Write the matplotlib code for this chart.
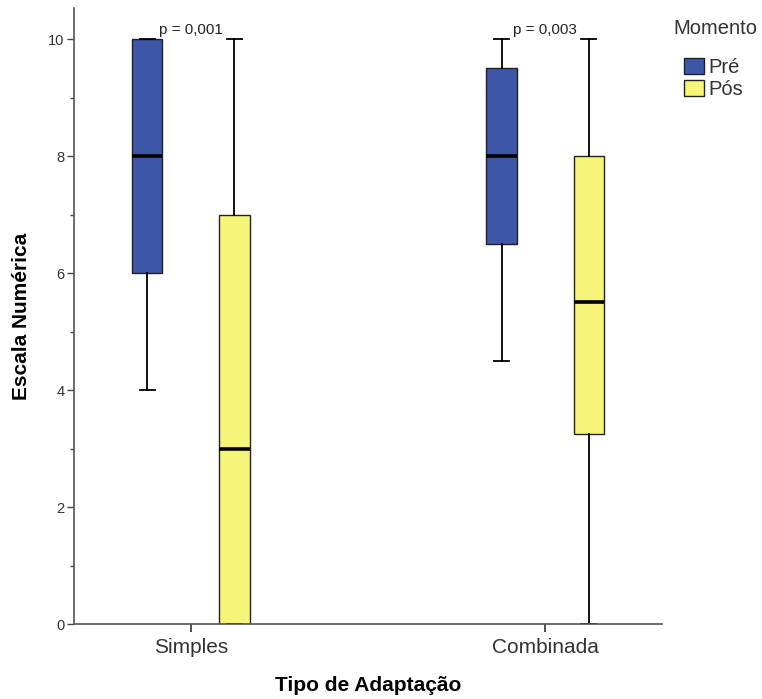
import matplotlib
matplotlib.use("Agg")
import matplotlib.pyplot as plt
from matplotlib.patches import Patch

plt.rcParams['font.family'] = ['Liberation Sans', 'DejaVu Sans']

categories = ["Simples", "Combinada"]
groups = ["Pré", "Pós"]
colors = ["#3d56a8", "#f7f577"]

# five-number summaries: (whislo, q1, median, q3, whishi)
pre_stats = [(4.0, 6.0, 8.0, 10.0, 10.0), (4.5, 6.5, 8.0, 9.5, 10.0)]
pos_stats = [(0.0, 0.0, 3.0, 7.0, 10.0), (0.0, 3.25, 5.5, 8.0, 10.0)]
p_labels = ["p = 0,001", "p = 0,003"]
y_ticks = [0, 2, 4, 6, 8, 10]

fig = plt.figure(figsize=(7.62, 6.99), dpi=100)
ax = fig.add_axes([74 / 762, 1 - 624 / 699, 588 / 762, 616 / 699])

offset = 0.123
width = 0.085
for gi, (stats_list, col) in enumerate(zip([pre_stats, pos_stats], colors)):
    stats = []
    for s in stats_list:
        stats.append(dict(whislo=s[0], q1=s[1], med=s[2], q3=s[3], whishi=s[4], fliers=[]))
    pos = [i + (offset if gi else -offset) for i in range(len(categories))]
    ax.bxp(stats, positions=pos, widths=width, patch_artist=True, showfliers=False,
           boxprops=dict(facecolor=col, edgecolor="#222222", linewidth=1.0),
           medianprops=dict(color="black", linewidth=2.6),
           whiskerprops=dict(color="black", linewidth=1.3),
           capprops=dict(color="black", linewidth=1.3),
           capwidths=width / 2, manage_ticks=False)

for i, lab in enumerate(p_labels):
    ax.text(i, 10.03, lab, ha="center", va="bottom", fontsize=11, color="#222222")

ax.set_xlim(-0.33, 1.33)
ax.set_ylim(0, 10.53)
ax.set_xticks(range(len(categories)))
ax.set_xticklabels(categories, fontsize=15, color="#333333")
ax.set_yticks(y_ticks)
ax.set_yticklabels([str(t) for t in y_ticks], fontsize=10.5, color="#333333")
ax.set_yticks([1, 3, 5, 7, 9], minor=True)
ax.tick_params(axis="y", which="major", length=5, width=1, color="#444444", pad=2)
ax.tick_params(axis="y", which="minor", length=3, width=1, color="#444444")
ax.tick_params(axis="x", length=6, width=1.3, color="#444444", pad=4)

for side in ["top", "right"]:
    ax.spines[side].set_visible(False)
for side in ["left", "bottom"]:
    ax.spines[side].set_color("#555555")
    ax.spines[side].set_linewidth(1.2)

ax.set_xlabel("Tipo de Adaptação", fontsize=15, fontweight="bold", labelpad=14)
ax.set_ylabel("Escala Numérica", fontsize=15, fontweight="bold", labelpad=12)

# legend: title placed separately for its wider gap above the entries
fig.text(715 / 762, 1 - 28 / 699, "Momento", ha="center", va="center",
         fontsize=14.5, color="#333333")
handles = [Patch(facecolor=c, edgecolor="#222222", linewidth=1.0) for c in colors]
leg = fig.legend(handles, groups, loc="upper left",
                 bbox_to_anchor=(684 / 762, 1 - 58 / 699), frameon=False,
                 fontsize=14.5, handlelength=1.0, handleheight=0.8,
                 handletextpad=0.2, labelspacing=0.15, borderaxespad=0, borderpad=0)
for t in leg.get_texts():
    t.set_color("#333333")

fig.savefig("out.png", dpi=100)
